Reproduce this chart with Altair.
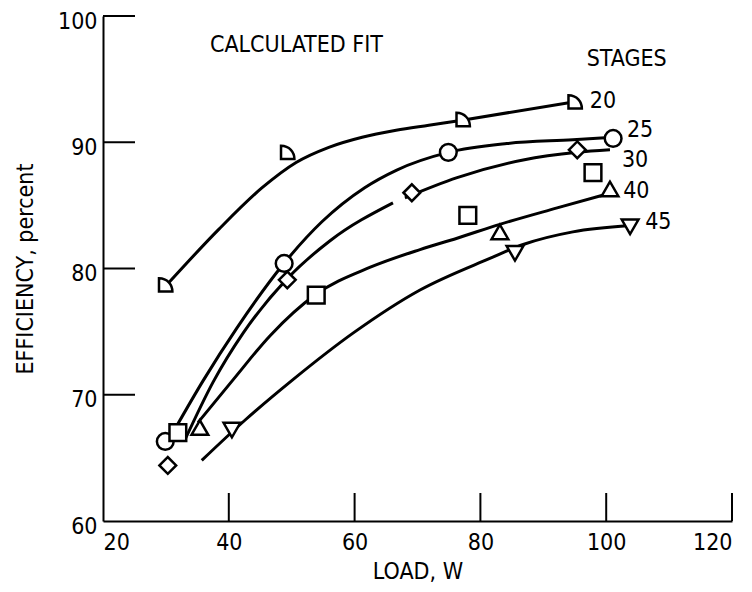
import altair as alt
import pandas as pd

FONT = "Liberation Sans Narrow, DejaVu Sans Condensed, Arial Narrow, sans-serif"

# ---- fitted curves ----
c20_x = [30.5, 38.4, 45.3, 50.7, 55.9, 61.2, 66.6, 71.8, 77.1, 95.0]
c20_y = [78.9, 83.1, 86.4, 88.4, 89.6, 90.4, 90.95, 91.35, 91.75, 93.2]
c25_x = [31.8, 35.9, 41.3, 48.6, 54.8, 61.6, 66.7, 74.9, 84.2, 94.7, 101.1]
c25_y = [67.6, 71.1, 75.3, 80.3, 83.7, 86.4, 87.8, 89.2, 89.9, 90.2, 90.4]
c30a_x = [33.0, 37.5, 42.3, 49.3, 56.1, 66.1]
c30a_y = [66.4, 71.0, 74.9, 79.2, 82.2, 85.2]
c30b_x = [68.0, 76.3, 86.8, 95.4, 100.6]
c30b_y = [85.6, 87.2, 88.6, 89.2, 89.4]
c40_x = [35.1, 40.7, 46.6, 53.7, 62.5, 70.4, 76.3, 83.1, 92.2, 100.1]
c40_y = [67.8, 71.2, 74.7, 77.9, 80.1, 81.5, 82.4, 83.5, 84.8, 85.9]
c45_x = [35.7, 42.6, 50.2, 59.8, 70.4, 81.5, 86.8, 94.7, 103.8]
c45_y = [64.8, 68.0, 71.2, 74.9, 78.3, 80.8, 81.9, 82.9, 83.4]

# ---- measured points ----
p20_x = [29.9, 49.3, 77.2, 95.0];  p20_y = [78.7, 89.2, 91.8, 93.2]
p25_x = [29.9, 48.8, 74.9, 101.1]; p25_y = [66.3, 80.4, 89.2, 90.3]
p30_x = [30.3, 49.3, 69.1, 95.4];  p30_y = [64.4, 79.1, 86.0, 89.4]
p35_x = [31.9, 53.9, 78.0, 97.9];  p35_y = [67.0, 77.9, 84.2, 87.6]
p40_x = [35.4, 83.1, 100.6];       p40_y = [67.4, 82.9, 86.3]
p45_x = [40.5, 85.5, 103.8];       p45_y = [67.2, 81.2, 83.3]

# ---- curve labels ----
lab_text = ["20", "25", "30", "40", "45"]
lab_x = [97.4, 103.3, 102.5, 102.7, 106.2]
lab_y = [93.3, 91.0, 88.6, 86.1, 83.7]

ann_text = ["CALCULATED FIT", "STAGES"]
ann_x = [37.0, 96.9]
ann_y = [97.7, 96.6]

x_ticks = [20, 40, 60, 80, 100, 120]
y_ticks = [60, 70, 80, 90, 100]
x_inner_ticks = [40, 60, 80, 100, 120]
y_inner_ticks = [70, 80, 90, 100]

stage_order = ["20", "25", "30", "35", "40", "45"]
D_SHAPE = "M -0.75 -0.8 C 0.25 -0.8 0.85 0.0 0.85 0.8 L -0.75 0.8 Z"
shape_range = [D_SHAPE, "circle", "diamond", "square", "triangle-up", "triangle-down"]

curves = []
for seg, xs, ys in [("20", c20_x, c20_y), ("25", c25_x, c25_y), ("30a", c30a_x, c30a_y),
                    ("30b", c30b_x, c30b_y), ("40", c40_x, c40_y), ("45", c45_x, c45_y)]:
    for a, b in zip(xs, ys):
        curves.append({"seg": seg, "x": a, "y": b})
curves = pd.DataFrame(curves)

pts = []
for st, xs, ys in [("20", p20_x, p20_y), ("25", p25_x, p25_y), ("30", p30_x, p30_y),
                   ("35", p35_x, p35_y), ("40", p40_x, p40_y), ("45", p45_x, p45_y)]:
    for a, b in zip(xs, ys):
        pts.append({"stage": st, "x": a, "y": b})
pts = pd.DataFrame(pts)

labels = pd.DataFrame({"t": lab_text, "x": lab_x, "y": lab_y})
ann = pd.DataFrame({"t": ann_text, "x": ann_x, "y": ann_y})

W, H = 629, 505
xs_ = alt.Scale(domain=[20, 120], nice=False, zero=False)
ys_ = alt.Scale(domain=[60, 100], nice=False, zero=False)

xaxis = alt.Axis(values=x_ticks, title="LOAD, W", ticks=False, grid=False,
                 labelPadding=10, titleY=50, titleBaseline="middle")
yaxis = alt.Axis(values=y_ticks, title="EFFICIENCY, percent", ticks=False, grid=False,
                 labelPadding=6, labelOffset=5, titleX=-78, titleY=H / 2, titleAngle=-90,
                 titleBaseline="middle", titleAlign="center")

lines = alt.Chart(curves).mark_line(color="black", strokeWidth=3, interpolate="monotone").encode(
    x=alt.X("x:Q", scale=xs_, axis=xaxis),
    y=alt.Y("y:Q", scale=ys_, axis=yaxis),
    detail="seg:N",
)

points = alt.Chart(pts).mark_point(filled=True, fill="white", stroke="black",
                                   strokeWidth=2.5, size=280, opacity=1).encode(
    x=alt.X("x:Q", scale=xs_),
    y=alt.Y("y:Q", scale=ys_),
    shape=alt.Shape("stage:N", scale=alt.Scale(domain=stage_order, range=shape_range), legend=None),
)

xt = alt.Chart(pd.DataFrame({"x": x_inner_ticks})).mark_rule(color="black", strokeWidth=2).encode(
    x=alt.X("x:Q", scale=xs_), y=alt.value(H), y2=alt.value(H - 28))
yt = alt.Chart(pd.DataFrame({"y": y_inner_ticks})).mark_rule(color="black", strokeWidth=2).encode(
    y=alt.Y("y:Q", scale=ys_), x=alt.value(0), x2=alt.value(32))

lab = alt.Chart(labels).mark_text(align="left", baseline="middle", font=FONT, fontSize=23,
                                  color="black").encode(
    x=alt.X("x:Q", scale=xs_), y=alt.Y("y:Q", scale=ys_), text="t:N")
an = alt.Chart(ann).mark_text(align="left", baseline="middle", font=FONT, fontSize=23,
                              color="black").encode(
    x=alt.X("x:Q", scale=xs_), y=alt.Y("y:Q", scale=ys_), text="t:N")

chart = alt.layer(lines, xt, yt, points, lab, an).properties(
    width=W, height=H,
    autosize=alt.AutoSizeParams(type="none"),
    padding={"left": 95, "top": 8, "right": 12, "bottom": 63},
    background="white",
).configure_view(stroke=None).configure_axis(
    domainColor="black", domainWidth=2, labelFont=FONT, labelFontSize=23,
    labelColor="black", titleFont=FONT, titleFontSize=23, titleColor="black",
    titleFontWeight="normal",
)

chart.save("out.html", embed_options={"renderer": "svg", "actions": False})
